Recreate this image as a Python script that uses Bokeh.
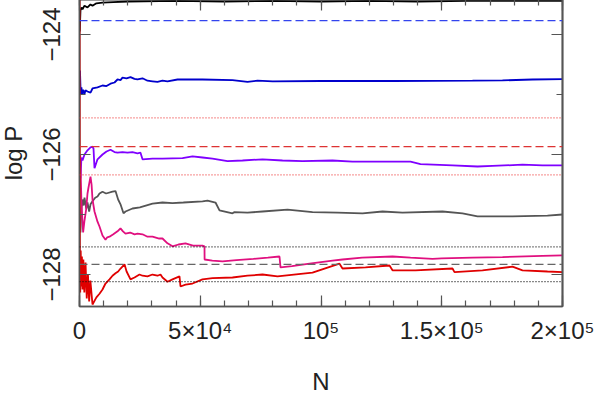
from bokeh.plotting import figure
from bokeh.models import Range1d, FixedTicker, LinearAxis, Span
from bokeh.embed import file_html
from bokeh.resources import INLINE

# ---- data ----
black_n = [100, 400, 800, 1242, 2070, 3313, 4555, 5383, 7000, 9524, 14000, 20000, 40000, 60000, 80000, 100000, 120000, 140000, 160000, 180000, 200000]
black_p = [-123.95, -123.60, -123.55, -123.58, -123.52, -123.55, -123.50, -123.52, -123.48, -123.47, -123.46, -123.45, -123.44, -123.45, -123.44, -123.45, -123.44, -123.45, -123.44, -123.44, -123.44]

blue_n = [200, 500, 800, 1100, 1500, 2070, 2500, 3313, 4555, 5383, 7453, 9524, 11180, 12837, 14493, 15735, 16977, 17806, 19462, 21118, 22774, 24017, 26087, 28157, 30228, 32298, 34369, 36439, 40580, 46791, 50932, 63354, 69565, 73700, 80000, 100000, 130000, 162733, 175155, 187576, 200000]
blue_p = [-124.60, -125.00, -124.88, -125.00, -124.92, -124.99, -124.93, -124.95, -124.97, -124.90, -124.88, -124.85, -124.86, -124.82, -124.80, -124.75, -124.76, -124.72, -124.73, -124.71, -124.74, -124.75, -124.73, -124.77, -124.78, -124.79, -124.77, -124.78, -124.75, -124.75, -124.75, -124.76, -124.79, -124.77, -124.78, -124.775, -124.775, -124.77, -124.765, -124.75, -124.745]

purple_n = [400, 800, 1242, 2070, 3313, 4555, 5383, 5800, 6211, 7453, 9524, 11180, 12837, 14493, 15735, 17806, 19876, 21946, 24017, 25259, 26087, 30228, 34369, 42650, 46791, 50932, 55073, 61284, 67496, 75778, 84058, 92340, 104762, 113043, 125466, 137060, 141201, 154451, 164804, 171015, 183437, 191718, 200000]
purple_p = [-126.40, -126.05, -126.10, -126.00, -125.93, -125.88, -125.87, -125.90, -126.23, -126.08, -126.00, -125.95, -125.92, -125.96, -125.97, -125.96, -125.97, -125.96, -125.98, -125.97, -126.08, -126.07, -126.07, -126.06, -126.03, -126.05, -126.07, -126.11, -126.10, -126.08, -126.10, -126.11, -126.10, -126.12, -126.12, -126.12, -126.16, -126.18, -126.20, -126.19, -126.17, -126.18, -126.18]

gray_n = [400, 800, 1242, 1700, 2070, 2800, 3313, 4000, 4555, 5383, 6500, 7453, 8282, 9524, 11000, 13665, 14907, 16000, 16977, 18220, 19048, 21946, 25000, 30228, 34369, 38509, 43000, 50932, 53002, 56315, 57971, 63354, 64182, 69565, 75778, 86129, 96481, 106832, 117184, 125466, 133747, 150310, 158592, 164804, 179296, 193789, 200000]
gray_p = [-127.30, -126.90, -126.75, -126.85, -126.72, -126.90, -126.80, -126.95, -126.83, -126.78, -126.72, -126.70, -126.65, -126.62, -126.65, -126.62, -126.61, -126.75, -126.83, -126.98, -126.95, -126.90, -126.88, -126.82, -126.80, -126.81, -126.80, -126.78, -126.77, -126.80, -126.93, -126.98, -126.96, -126.97, -126.95, -126.92, -126.96, -126.97, -126.98, -126.95, -126.97, -126.95, -126.98, -127.03, -127.03, -127.02, -127.00]

magenta_n = [300, 800, 1500, 2070, 2800, 3313, 3727, 4555, 5000, 5383, 6211, 7453, 8282, 9524, 10766, 11500, 12422, 14000, 15735, 16977, 18000, 19048, 21000, 22774, 24017, 26087, 28157, 30228, 33000, 34369, 36439, 38509, 41000, 43892, 47000, 50932, 51760, 51800, 55000, 59213, 65000, 72000, 78000, 82816, 83230, 88000, 95238, 104762, 108903, 117000, 129607, 137060, 146170, 150000, 162733, 175155, 191718, 200000]
magenta_p = [-126.00, -126.80, -127.30, -127.10, -126.90, -126.65, -126.55, -126.37, -126.50, -126.75, -126.95, -127.12, -127.20, -127.35, -127.42, -127.38, -127.37, -127.33, -127.28, -127.23, -127.28, -127.32, -127.30, -127.33, -127.32, -127.33, -127.37, -127.37, -127.40, -127.40, -127.48, -127.53, -127.50, -127.48, -127.52, -127.52, -127.53, -127.75, -127.77, -127.78, -127.76, -127.74, -127.72, -127.70, -127.88, -127.86, -127.82, -127.77, -127.75, -127.72, -127.70, -127.72, -127.74, -127.73, -127.72, -127.71, -127.69, -127.68]

red_n = [50, 150, 300, 500, 800, 1000, 1242, 1600, 2000, 2500, 3000, 3500, 4000, 4500, 5383, 7000, 8282, 9524, 10766, 12422, 13665, 14907, 16000, 17000, 18634, 19500, 21118, 22774, 24845, 26087, 28157, 30228, 32298, 33540, 34369, 36439, 38509, 41408, 41822, 43892, 46791, 50932, 55073, 63354, 69565, 75778, 81988, 96481, 107660, 108903, 118426, 128364, 129607, 139131, 154451, 155280, 166874, 179296, 183437, 193789, 200000]
red_p = [-123.30, -127.60, -128.30, -127.60, -128.20, -127.70, -128.25, -127.75, -128.30, -127.80, -128.40, -128.00, -128.45, -128.10, -128.50, -128.38, -128.32, -128.25, -128.15, -128.08, -128.02, -127.98, -127.95, -127.90, -127.83, -127.95, -128.08, -128.05, -128.00, -128.02, -128.03, -128.00, -128.02, -128.00, -128.05, -128.12, -128.08, -128.03, -128.20, -128.17, -128.15, -128.08, -128.06, -128.05, -128.02, -128.00, -128.03, -127.97, -127.82, -127.90, -127.88, -127.85, -127.93, -127.93, -127.90, -127.96, -127.93, -127.87, -127.93, -127.95, -127.96]

# reference levels: (value, colour, dash)
ref_vals = [-123.77, -125.39, -125.87, -126.34, -127.54, -127.83, -128.12]
ref_cols = ["#3344ee", "#ee4444", "#dd3333", "#ee4444", "#111111", "#666666", "#111111"]
ref_dash = ["8 4", "1 2", "8 4", "1 2", "1 2", "8 4", "1 2"]

x_ticks = [0, 50000, 100000, 150000, 200000]
x_minor = [i * 10000 for i in range(21)]
x_labels = ["0", "5×10⁴", "10⁵", "1.5×10⁵", "2×10⁵"]
y_ticks = [-128, -126, -124]
y_minor = [-128, -127, -126, -125, -124]
y_labels = ["−128", "−126", "−124"]

FONT = "Liberation Sans"
AX = "#555555"

p = figure(frame_width=483, frame_height=307,
           min_border_left=77, min_border_top=3, min_border_right=40, min_border_bottom=84,
           x_range=Range1d(0, 200000), y_range=Range1d(-128.533, -123.417),
           output_backend="svg", toolbar_location=None, margin=(-4, -4, -4, -4),
           x_axis_location=None, y_axis_location=None)
p.xgrid.visible = False
p.ygrid.visible = False
p.outline_line_color = AX
p.outline_line_width = 1.5
p.background_fill_color = "white"
p.border_fill_color = "white"

def base(ax):
    ax.axis_line_color = AX
    ax.axis_line_width = 1.5
    ax.major_tick_line_color = AX
    ax.minor_tick_line_color = AX
    ax.major_tick_line_width = 1.2
    ax.minor_tick_line_width = 1.2
    ax.major_tick_out = 0
    ax.minor_tick_out = 0

def labelled(ax, ticks, minor, labels):
    base(ax)
    ax.ticker = FixedTicker(ticks=ticks, minor_ticks=minor)
    ax.major_tick_in = 11
    ax.minor_tick_in = 6
    ax.major_label_overrides = {t: l for t, l in zip(ticks, labels)}
    ax.major_label_text_font = FONT
    ax.major_label_text_font_size = "24px"
    ax.major_label_text_color = "#222222"
    ax.axis_label_text_font = FONT
    ax.axis_label_text_font_size = "24px"
    ax.axis_label_text_font_style = "normal"
    ax.axis_label_text_color = "#222222"

def bare(ax, positions, length):
    # tick marks only (drawn as minor ticks, which carry no labels)
    base(ax)
    ax.ticker = FixedTicker(ticks=[], minor_ticks=positions)
    ax.major_tick_in = 0
    ax.minor_tick_in = length
    ax.major_label_standoff = 0
    ax.axis_label_standoff = 0

xb = LinearAxis(axis_label="N")
labelled(xb, x_ticks, x_minor, x_labels)
xb.major_label_standoff = 10
xb.axis_label_standoff = 21
p.add_layout(xb, "below")

yl = LinearAxis(axis_label="log P")
labelled(yl, y_ticks, y_minor, y_labels)
yl.major_label_orientation = "vertical"
yl.major_label_standoff = 19
yl.axis_label_standoff = 14
p.add_layout(yl, "left")

xt1 = LinearAxis(); bare(xt1, x_ticks, 11); p.add_layout(xt1, "above")
xt2 = LinearAxis(); bare(xt2, x_minor, 6); p.add_layout(xt2, "above")
yr1 = LinearAxis(); bare(yr1, y_ticks, 11); p.add_layout(yr1, "right")
yr2 = LinearAxis(); bare(yr2, y_minor, 6); p.add_layout(yr2, "right")

for v, c, d in zip(ref_vals, ref_cols, ref_dash):
    p.add_layout(Span(location=v, dimension="width", line_color=c, line_dash=d, line_width=1.2))

p.line(black_n, black_p, line_color="#000000", line_width=1.8)
p.line(blue_n, blue_p, line_color="#0000cc", line_width=1.8)
p.line(purple_n, purple_p, line_color="#7f00ff", line_width=1.8)
p.line(gray_n, gray_p, line_color="#555555", line_width=1.8)
p.line(magenta_n, magenta_p, line_color="#e0107f", line_width=1.8)
p.line(red_n, red_p, line_color="#e00000", line_width=1.8)

open("out.html", "w").write(file_html(p, INLINE))
